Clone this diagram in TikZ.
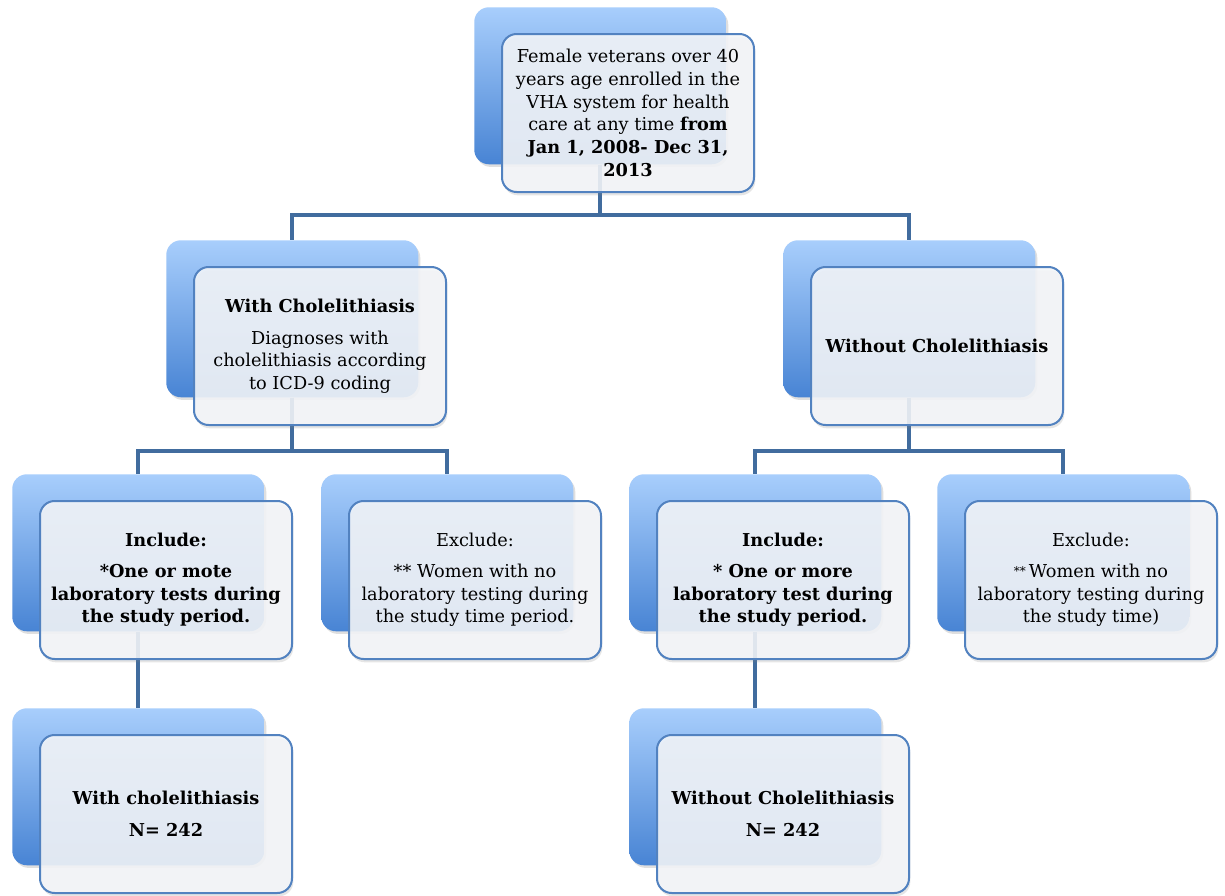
\documentclass[tikz,border=0pt]{standalone}
\usepackage{fontspec}
\setmainfont{DejaVu Serif}
\usetikzlibrary{shadows}
\definecolor{connc}{RGB}{65,108,158}
\definecolor{backtop}{RGB}{168,206,252}
\definecolor{backbot}{RGB}{72,132,212}
\definecolor{frontfill}{RGB}{244,246,249}
\definecolor{frontline}{RGB}{82,130,192}
\newcommand\backbox[3]{\node[backbox] (#1) at (#2,#3) {};}
\newcommand\frontbox[4]{\node[frontbox] (#1) at (#2+27,#3+26) {#4};}
\begin{document}
\begin{tikzpicture}[x=0.75pt,y=-0.75pt,
  backbox/.style={rectangle, rounded corners=11pt, minimum width=189pt, minimum height=117.75pt,
    top color=backtop, bottom color=backbot, draw=none, anchor=north west, inner sep=0pt,
    drop shadow={opacity=0.25, shadow xshift=1.5pt, shadow yshift=-2pt}},
  frontbox/.style={rectangle, rounded corners=11pt, minimum width=189pt, minimum height=118.5pt,
    fill=frontfill, fill opacity=0.88, text opacity=1, draw=frontline, line width=1.5pt,
    anchor=north west, align=center, inner sep=0pt, font=\fontsize{13.3}{17}\selectfont,
    drop shadow={opacity=0.2, shadow xshift=1pt, shadow yshift=-2.5pt}},
  conn/.style={draw=connc, line width=3pt}]
\fill[white] (0,0) rectangle (1225,896);
\useasboundingbox (0,0) rectangle (1225,896);
% back boxes
\backbox{topb}{474}{7}
\backbox{wcb}{166}{240}
\backbox{wocb}{783}{240}
\backbox{incab}{12}{474}
\backbox{exab}{321}{474}
\backbox{incbb}{629}{474}
\backbox{exbb}{937}{474}
\backbox{resab}{12}{708}
\backbox{resbb}{629}{708}
% connectors
\draw[conn] (topb.south) -- ++(0,50) -| (wcb.north);
\draw[conn] (topb.south) -- ++(0,50) -| (wocb.north);
\draw[conn] (wcb.south) -- ++(0,53) -| (incab.north);
\draw[conn] (wcb.south) -- ++(0,53) -| (exab.north);
\draw[conn] (wocb.south) -- ++(0,53) -| (incbb.north);
\draw[conn] (wocb.south) -- ++(0,53) -| (exbb.north);
\draw[conn] (incab.south) -- (resab.north);
\draw[conn] (incbb.south) -- (resbb.north);
% front boxes
\frontbox{topf}{474}{7}{Female veterans over 40\\years age enrolled in the\\VHA system for health\\care at any time \textbf{from}\\\textbf{Jan 1, 2008- Dec 31,}\\\textbf{2013}}
\frontbox{wcf}{166}{240}{\textbf{With Cholelithiasis}\\[7pt]Diagnoses with\\cholelithiasis according\\to ICD-9 coding}
\frontbox{wocf}{783}{240}{\textbf{Without Cholelithiasis}}
\frontbox{incaf}{12}{474}{\textbf{Include:}\\[6pt]\textbf{*One or mote}\\\textbf{laboratory tests during}\\\textbf{the study period.}}
\frontbox{exaf}{321}{474}{Exclude:\\[6pt]** Women with no\\laboratory testing during\\the study time period.}
\frontbox{incbf}{629}{474}{\textbf{Include:}\\[6pt]\textbf{* One or more}\\\textbf{laboratory test during}\\\textbf{the study period.}}
\frontbox{exbf}{937}{474}{Exclude:\\[6pt]{\fontsize{9}{9}\selectfont\raisebox{1.5pt}{**}}\,Women with no\\laboratory testing during\\the study time)}
\frontbox{resaf}{12}{708}{\textbf{With cholelithiasis}\\[7pt]\textbf{N= 242}}
\frontbox{resbf}{629}{708}{\textbf{Without Cholelithiasis}\\[7pt]\textbf{N= 242}}
\end{tikzpicture}
\end{document}
